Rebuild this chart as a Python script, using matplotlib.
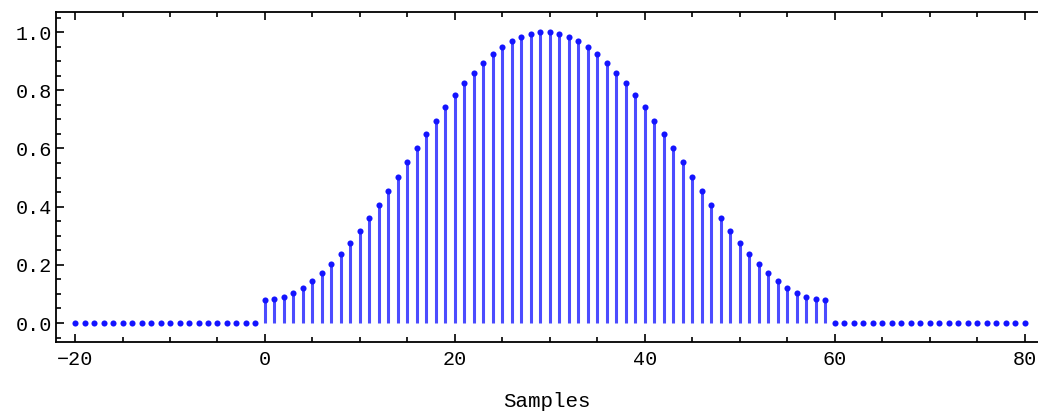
import numpy as np
import matplotlib.pyplot as plt
from matplotlib.ticker import MultipleLocator

# window samples (n = 0..59), zero outside
samples = list(range(-20, 81))
window = [0.080, 0.083, 0.090, 0.103, 0.121, 0.144, 0.171, 0.202, 0.237, 0.276,
          0.317, 0.361, 0.407, 0.455, 0.503, 0.552, 0.601, 0.649, 0.696, 0.741,
          0.784, 0.824, 0.861, 0.894, 0.923, 0.948, 0.968, 0.983, 0.994, 0.999,
          0.999, 0.994, 0.983, 0.968, 0.948, 0.923, 0.894, 0.861, 0.824, 0.784,
          0.741, 0.696, 0.649, 0.601, 0.552, 0.503, 0.455, 0.407, 0.361, 0.317,
          0.276, 0.237, 0.202, 0.171, 0.144, 0.121, 0.103, 0.090, 0.083, 0.080]
values = [0.0] * 20 + window + [0.0] * 21

plt.rcParams['font.family'] = ['Liberation Mono', 'DejaVu Sans Mono']

fig = plt.figure(figsize=(10.38, 4.13), dpi=100)
ax = fig.add_axes([0.054, 0.172, 0.946, 0.799])

x = np.array(samples)
y = np.array(values)
ax.vlines(x[y > 0], 0, y[y > 0], color='#0000ff', alpha=0.7, linewidth=2.2)
ax.plot(x, y, 'o', color='#1414ff', markersize=4.4, markeredgewidth=0)

ax.set_xlim(-22.0, 81.4)
ax.set_ylim(-0.065, 1.069)
ax.spines['right'].set_visible(False)
for s in ['left', 'top', 'bottom']:
    ax.spines[s].set_linewidth(1.3)

ax.xaxis.set_major_locator(MultipleLocator(20))
ax.xaxis.set_minor_locator(MultipleLocator(5))
ax.yaxis.set_major_locator(MultipleLocator(0.2))
ax.yaxis.set_minor_locator(MultipleLocator(0.05))
ax.yaxis.set_major_formatter(plt.FuncFormatter(lambda v, p: f'{v:.1f}'))
ax.tick_params(which='both', direction='in', top=True, right=False, width=1.2, labelsize=14.5)
ax.tick_params(which='major', length=6)
ax.tick_params(which='minor', length=3.5)
ax.tick_params(axis='x', pad=6)
ax.tick_params(axis='y', pad=3)

ax.set_xlabel('Samples', fontsize=15, labelpad=16)

plt.savefig('out.png', dpi=100)
